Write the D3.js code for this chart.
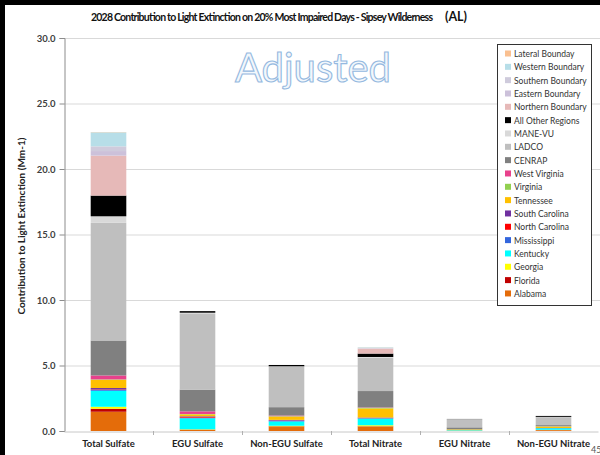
<!DOCTYPE html>
<html>
<head>
<meta charset="utf-8">
<script src="https://cdn.jsdelivr.net/npm/d3@7"></script>
<style>
  body { margin: 0; background: #fff; }
  svg { display: block; font-family: Lato, "Open Sans", sans-serif; }
</style>
</head>
<body>
<svg id="chart" width="600" height="455"></svg>
<script>
// categories along the x axis
var categories = ["Total Sulfate", "EGU Sulfate", "Non-EGU Sulfate", "Total Nitrate", "EGU Nitrate", "Non-EGU Nitrate"];

// contributions (Mm-1) per source region, one value per category
var alabama       = [1.47, 0.08, 0.30, 0.33, 0.02, 0.06];
var florida       = [0.23, 0.02, 0.05, 0.03, 0.00, 0.01];
var georgia       = [0.15, 0.03, 0.05, 0.08, 0.01, 0.02];
var kentucky      = [1.22, 0.84, 0.33, 0.51, 0.04, 0.12];
var mississippi   = [0.10, 0.05, 0.05, 0.03, 0.00, 0.01];
var northCarolina = [0.03, 0.05, 0.02, 0.02, 0.00, 0.00];
var southCarolina = [0.08, 0.05, 0.05, 0.03, 0.00, 0.01];
var tennessee     = [0.63, 0.15, 0.25, 0.69, 0.05, 0.10];
var virginia      = [0.03, 0.03, 0.03, 0.05, 0.01, 0.03];
var westVirginia  = [0.30, 0.20, 0.05, 0.03, 0.00, 0.01];
var cenrap        = [2.67, 1.66, 0.64, 1.25, 0.15, 0.08];
var ladco         = [8.98, 5.77, 3.10, 2.55, 0.63, 0.61];
var manevu        = [0.50, 0.10, 0.02, 0.05, 0.00, 0.02];
var allOther      = [1.58, 0.12, 0.10, 0.26, 0.01, 0.07];
var northernBdy   = [3.05, 0.00, 0.00, 0.38, 0.00, 0.00];
var easternBdy    = [0.35, 0.00, 0.00, 0.02, 0.00, 0.00];
var southernBdy   = [0.36, 0.00, 0.00, 0.02, 0.00, 0.00];
var westernBdy    = [1.07, 0.00, 0.00, 0.05, 0.00, 0.00];
var lateralBdy    = [0.02, 0.00, 0.00, 0.01, 0.00, 0.00];

// stacking order, bottom to top
var regions = ["Alabama", "Florida", "Georgia", "Kentucky", "Mississippi", "North Carolina",
  "South Carolina", "Tennessee", "Virginia", "West Virginia", "CENRAP", "LADCO", "MANE-VU",
  "All Other Regions", "Northern Boundary", "Eastern Boundary", "Southern Boundary",
  "Western Boundary", "Lateral Bounday"];
var regionValues = [alabama, florida, georgia, kentucky, mississippi, northCarolina,
  southCarolina, tennessee, virginia, westVirginia, cenrap, ladco, manevu,
  allOther, northernBdy, easternBdy, southernBdy, westernBdy, lateralBdy];
var colors = ["#e46c0a", "#c00000", "#ffff00", "#00ffff", "#3366dd", "#ff0000",
  "#7030a0", "#ffc000", "#92d050", "#e8418c", "#808080", "#bfbfbf", "#d9d9d9",
  "#000000", "#e6b9b8", "#ccc1da", "#cfcbdc", "#b7dee8", "#fac090"];

var yTicks = [0, 5, 10, 15, 20, 25, 30];

var svg = d3.select("#chart");

var margin = {top: 38, left: 64, right: 598, bottom: 431};

// build rows for d3.stack
var table = categories.map(function(c, i) {
  var row = {category: c};
  regions.forEach(function(r, j) { row[r] = regionValues[j][i]; });
  return row;
});

var stacked = d3.stack().keys(regions)(table);

var x = d3.scaleBand()
    .domain(categories)
    .range([margin.left, margin.right])
    .paddingInner(0.6)
    .paddingOuter(0.3);

var y = d3.scaleLinear().domain([0, 30]).range([margin.bottom, margin.top]);

// frame
svg.append("rect").attr("x", 0).attr("y", 0).attr("width", 600).attr("height", 5).attr("fill", "#000");
svg.append("rect").attr("x", 0).attr("y", 0).attr("width", 5).attr("height", 455).attr("fill", "#000");

// gridlines
svg.append("g")
  .selectAll("line")
  .data(yTicks.slice(1))
  .enter().append("line")
  .attr("x1", margin.left).attr("x2", 600)
  .attr("y1", function(d) { return y(d) + 0.5; })
  .attr("y2", function(d) { return y(d) + 0.5; })
  .attr("stroke", "#d9d9d9");

// watermark
svg.append("text")
  .attr("x", 313).attr("y", 82)
  .attr("text-anchor", "middle")
  .attr("font-size", 40)
  .attr("fill", "#f2f7fc")
  .attr("stroke", "#95b9e0")
  .attr("stroke-width", 1.1)
  .text("Adjusted");

// bars
svg.append("g")
  .selectAll("g")
  .data(stacked)
  .enter().append("g")
  .attr("fill", function(d, i) { return colors[i]; })
  .selectAll("rect")
  .data(function(d) { return d; })
  .enter().append("rect")
  .attr("x", function(d) { return x(d.data.category); })
  .attr("width", x.bandwidth())
  .attr("y", function(d) { return y(d[1]); })
  .attr("height", function(d) { return y(d[0]) - y(d[1]); });

// y axis
var yAxis = d3.axisLeft(y)
    .tickValues(yTicks)
    .tickSize(5)
    .tickPadding(4)
    .tickFormat(d3.format(".1f"));

var gy = svg.append("g")
    .attr("transform", "translate(" + (margin.left + 0.5) + ",0)")
    .call(yAxis);
gy.select(".domain").attr("stroke", "#8c8c8c");
gy.selectAll(".tick line").attr("stroke", "#8c8c8c");
gy.selectAll(".tick text")
  .attr("font-family", "Lato, sans-serif")
  .attr("font-size", 9.5)
  .attr("font-weight", "bold")
  .attr("fill", "#404040");

// x axis
var xAxis = d3.axisBottom(x).tickSize(0).tickPadding(9);
var gx = svg.append("g")
    .attr("transform", "translate(0," + (margin.bottom + 0.5) + ")")
    .call(xAxis);
gx.select(".domain").attr("stroke", "#c8c8c8");
gx.selectAll(".tick text")
  .attr("font-family", "Lato, sans-serif")
  .attr("font-size", 9.5)
  .attr("font-weight", "bold")
  .attr("fill", "#222");

// tick marks between categories
svg.append("g")
  .selectAll("line")
  .data(categories.slice(1))
  .enter().append("line")
  .attr("x1", function(d) { return Math.round(x(d) - x.step() * x.paddingInner() / 2) + 0.5; })
  .attr("x2", function(d) { return Math.round(x(d) - x.step() * x.paddingInner() / 2) + 0.5; })
  .attr("y1", margin.bottom)
  .attr("y2", margin.bottom + 4)
  .attr("stroke", "#b0b0b0");

// y axis title
svg.append("text")
  .attr("transform", "translate(25,226) rotate(-90)")
  .attr("text-anchor", "middle")
  .attr("font-size", 10)
  .attr("font-weight", "bold")
  .attr("fill", "#222")
  .text("Contribution to Light Extinction (Mm-1)");

// title
var title = svg.append("text")
  .attr("x", 91).attr("y", 21)
  .attr("font-size", 10.5)
  .attr("font-weight", "bold")
  .attr("fill", "#111");
title.append("tspan")
  .attr("textLength", 342)
  .text("2028 Contribution to Light Extinction on 20% Most Impaired Days - Sipsey Wilderness");
title.append("tspan")
  .attr("x", 445)
  .attr("font-size", 12.5)
  .text("(AL)");

// legend
var legend = svg.append("g");
legend.append("rect")
  .attr("x", 497.5).attr("y", 44.5)
  .attr("width", 94).attr("height", 261)
  .attr("fill", "#fff")
  .attr("stroke", "#333");

var legendOrder = regions.slice().reverse();
var item = legend.selectAll("g.item")
  .data(legendOrder)
  .enter().append("g")
  .attr("class", "item")
  .attr("transform", function(d, i) { return "translate(505," + (54 + i * 13.33) + ")"; });
item.append("rect")
  .attr("x", 0).attr("y", -3.5)
  .attr("width", 6).attr("height", 6)
  .attr("fill", function(d) { return colors[regions.indexOf(d)]; });
item.append("text")
  .attr("x", 9).attr("y", 3)
  .attr("font-size", 8.5)
  .attr("fill", "#333")
  .text(function(d) { return d; });

// page number fragment
svg.append("text")
  .attr("x", 591).attr("y", 453)
  .attr("font-size", 9)
  .attr("fill", "#555")
  .text("45");
</script>
</body>
</html>
